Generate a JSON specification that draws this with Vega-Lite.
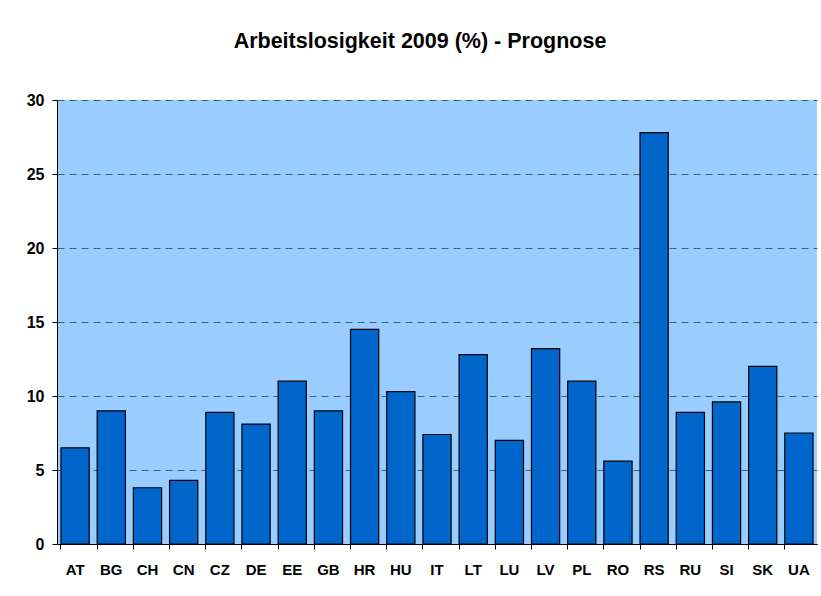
{
  "$schema": "https://vega.github.io/schema/vega-lite/v6.json",
  "autosize": "none",
  "width": 760,
  "height": 444,
  "padding": {"left": 57, "top": 100, "right": 4, "bottom": 52},
  "background": "white",
  "title": {
    "text": "Arbeitslosigkeit 2009 (%) - Prognose",
    "font": "Liberation Sans",
    "fontSize": 21.5,
    "fontWeight": "bold",
    "color": "black",
    "anchor": "middle",
    "dx": -17,
    "offset": 40
  },
  "data": {
    "values": [
      {"land": "AT", "wert": 6.5},
      {"land": "BG", "wert": 9.0},
      {"land": "CH", "wert": 3.8},
      {"land": "CN", "wert": 4.3},
      {"land": "CZ", "wert": 8.9},
      {"land": "DE", "wert": 8.1},
      {"land": "EE", "wert": 11.0},
      {"land": "GB", "wert": 9.0},
      {"land": "HR", "wert": 14.5},
      {"land": "HU", "wert": 10.3},
      {"land": "IT", "wert": 7.4},
      {"land": "LT", "wert": 12.8},
      {"land": "LU", "wert": 7.0},
      {"land": "LV", "wert": 13.2},
      {"land": "PL", "wert": 11.0},
      {"land": "RO", "wert": 5.6},
      {"land": "RS", "wert": 27.8},
      {"land": "RU", "wert": 8.9},
      {"land": "SI", "wert": 9.6},
      {"land": "SK", "wert": 12.0},
      {"land": "UA", "wert": 7.5}
    ]
  },
  "mark": {"type": "bar", "color": "#0066CC", "stroke": "black", "strokeWidth": 1.2},
  "encoding": {
    "x": {
      "field": "land",
      "type": "nominal",
      "sort": null,
      "scale": {"paddingInner": 0.22, "paddingOuter": 0.11},
      "axis": {
        "title": null,
        "labelAngle": 0,
        "labelFont": "Liberation Sans",
        "labelFontSize": 15,
        "labelFontWeight": "bold",
        "labelColor": "black",
        "labelPadding": 13,
        "bandPosition": 0,
        "tickColor": "black",
        "tickSize": 5,
        "domainColor": "black",
        "grid": false
      }
    },
    "y": {
      "field": "wert",
      "type": "quantitative",
      "scale": {"domain": [0, 30], "nice": false},
      "axis": {
        "title": null,
        "values": [0, 5, 10, 15, 20, 25, 30],
        "labelFont": "Liberation Sans",
        "labelFontSize": 16,
        "labelFontWeight": "bold",
        "labelColor": "black",
        "labelPadding": 8,
        "tickColor": "black",
        "tickSize": 5,
        "domainColor": "black",
        "grid": true,
        "gridColor": "#3a4a5a",
        "gridDash": [7, 5],
        "gridWidth": 1,
        "gridOpacity": 0.85
      }
    }
  },
  "config": {
    "view": {"fill": "#99CCFF", "stroke": null}
  }
}
